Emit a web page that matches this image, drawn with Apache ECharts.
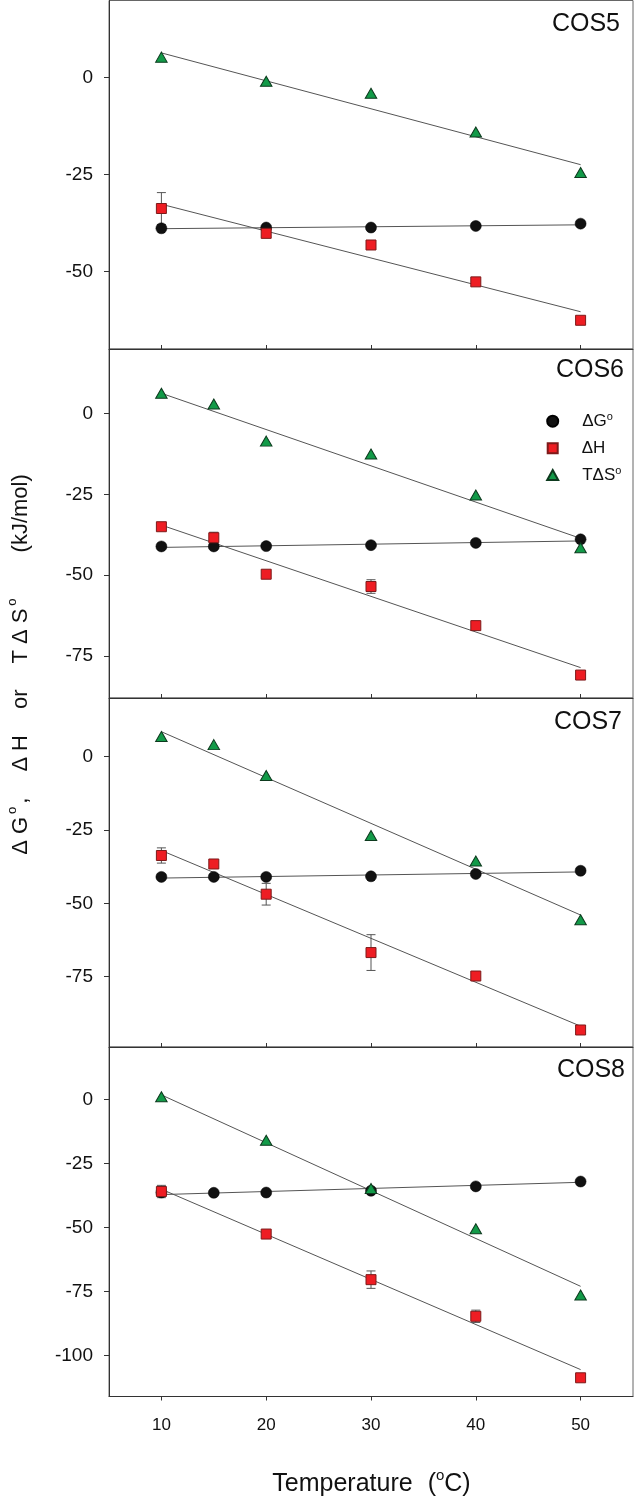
<!DOCTYPE html>
<html><head><meta charset="utf-8">
<script src="https://cdn.jsdelivr.net/npm/echarts@6/dist/echarts.min.js"></script>
<style>html,body{margin:0;padding:0;background:#fff}#c{width:634px;height:1499px}</style>
</head><body><div id="c"></div>
<script>
// ---- data ----
const xTicks = [10, 20, 30, 40, 50];
const panelNames = ['COS5', 'COS6', 'COS7', 'COS8'];
const yRanges = [[-70, 19.8], [-88, 20], [-99, 20], [-116, 20.4]];
const yTicks = [[0, -25, -50], [0, -25, -50, -75], [0, -25, -50, -75], [0, -25, -50, -75, -100]];
const fitTemp = [10, 50];

// COS5
const cos5Temp = [10, 20, 30, 40, 50];
const cos5G = [-38.9, -38.7, -38.7, -38.3, -37.7];
const cos5H = [-33.8, -40.2, -43.2, -52.7, -62.6];
const cos5HErr = [4.1, 0, 0, 0, 0];
const cos5S = [5.2, -1.0, -4.1, -14.1, -24.5];
const cos5FitG = [-39.0, -38.0];
const cos5FitH = [-32.7, -60.4];
const cos5FitS = [6.3, -22.5];

// COS6
const cos6Temp = [10, 15, 20, 30, 40, 50];
const cos6G = [-41.1, -41.1, -41.0, -40.7, -40.0, -38.9];
const cos6H = [-35.0, -38.4, -49.7, -53.5, -65.6, -80.9];
const cos6HErr = [1.0, 1.7, 0, 2.1, 0, 0];
const cos6S = [6.3, 3.0, -8.5, -12.5, -25.2, -41.5];
const cos6FitG = [-41.4, -39.4];
const cos6FitH = [-34.5, -78.6];
const cos6FitS = [6.3, -38.6];

// COS7
const cos7Temp = [10, 15, 20, 30, 40, 50];
const cos7G = [-41.0, -41.0, -41.0, -40.8, -40.0, -38.9];
const cos7H = [-33.7, -36.6, -46.9, -66.8, -74.8, -93.2];
const cos7HErr = [2.6, 0, 3.7, 6.1, 0, 0];
const cos7S = [6.9, 4.1, -6.4, -26.9, -35.6, -55.6];
const cos7FitG = [-41.4, -39.3];
const cos7FitH = [-32.0, -91.9];
const cos7FitS = [8.5, -54.0];

// COS8
const cos8TempG = [10, 15, 20, 30, 40, 50];
const cos8G = [-36.4, -36.5, -36.4, -35.7, -34.0, -32.1];
const cos8Temp = [10, 20, 30, 40, 50];
const cos8H = [-36.0, -52.6, -70.4, -84.7, -108.7];
const cos8HErr = [2.4, 0, 3.4, 2.4, 0];
const cos8S = [1.0, -16.0, -34.8, -50.5, -76.4];
const cos8FitG = [-37.2, -32.4];
const cos8FitH = [-35.1, -105.5];
const cos8FitS = [1.7, -73.0];

const panels = [
  {tG: cos5Temp, g: cos5G, tH: cos5Temp, h: cos5H, e: cos5HErr, tS: cos5Temp, s: cos5S, fG: cos5FitG, fH: cos5FitH, fS: cos5FitS},
  {tG: cos6Temp, g: cos6G, tH: cos6Temp, h: cos6H, e: cos6HErr, tS: cos6Temp, s: cos6S, fG: cos6FitG, fH: cos6FitH, fS: cos6FitS},
  {tG: cos7Temp, g: cos7G, tH: cos7Temp, h: cos7H, e: cos7HErr, tS: cos7Temp, s: cos7S, fG: cos7FitG, fH: cos7FitH, fS: cos7FitS},
  {tG: cos8TempG, g: cos8G, tH: cos8Temp, h: cos8H, e: cos8HErr, tS: cos8Temp, s: cos8S, fG: cos8FitG, fH: cos8FitH, fS: cos8FitS}
];

// ---- layout / style ----
const FONT = 'Liberation Sans, Arial, sans-serif';
const tops = [0.5, 349, 698, 1047];
const heights = [348.5, 349, 349, 349.5];
const labelY = [24.2, 370, 721.7, 1070];
const labelX = [620, 624, 622, 625];
const AX = '#333';
const LINE = '#555';

const zip = (a, b) => a.map((v, i) => [v, b[i]]);

const grid = [], xAxis = [], yAxis = [], series = [];
panels.forEach((p, i) => {
  grid.push({left: 109, width: 524, top: tops[i], height: heights[i], show: true,
    borderColor: '#666', borderWidth: 1, backgroundColor: 'transparent'});
  xAxis.push({type: 'value', gridIndex: i, min: 5, max: 55,
    axisLine: {show: true, onZero: false, lineStyle: {color: AX, width: 1}},
    axisTick: {show: true, customValues: xTicks, inside: i < 3, length: 4, lineStyle: {color: AX}},
    axisLabel: {show: i === 3, customValues: xTicks, fontSize: 17, color: '#111', fontFamily: FONT, margin: 20},
    splitLine: {show: false}});
  yAxis.push({type: 'value', gridIndex: i, min: yRanges[i][0], max: yRanges[i][1],
    axisLine: {show: true, onZero: false, lineStyle: {color: AX, width: 1}},
    axisTick: {show: true, customValues: yTicks[i], length: 5, lineStyle: {color: AX}},
    axisLabel: {customValues: yTicks[i], fontSize: 19, color: '#111', fontFamily: FONT, margin: 16},
    splitLine: {show: false}});

  // error bars for ΔH
  series.push({type: 'custom', xAxisIndex: i, yAxisIndex: i, z: 1, silent: true,
    data: p.tH.map((t, k) => [t, p.h[k], p.e[k]]).filter(d => d[2] > 0),
    encode: {x: 0, y: 1},
    renderItem: (params, api) => {
      const x = api.value(0), y = api.value(1), e = api.value(2);
      const a = api.coord([x, y + e]), b = api.coord([x, y - e]);
      const w = 4.5, st = {stroke: LINE, lineWidth: 1};
      return {type: 'group', children: [
        {type: 'line', shape: {x1: a[0], y1: a[1], x2: b[0], y2: b[1]}, style: st},
        {type: 'line', shape: {x1: a[0] - w, y1: a[1], x2: a[0] + w, y2: a[1]}, style: st},
        {type: 'line', shape: {x1: b[0] - w, y1: b[1], x2: b[0] + w, y2: b[1]}, style: st}
      ]};
    }});
  // fit lines
  [p.fG, p.fH, p.fS].forEach(f => {
    series.push({type: 'line', xAxisIndex: i, yAxisIndex: i, z: 2, silent: true, symbol: 'none',
      data: zip(fitTemp, f), lineStyle: {color: LINE, width: 1}});
  });
  // markers
  series.push({name: 'ΔG°', type: 'scatter', xAxisIndex: i, yAxisIndex: i, z: 5,
    symbol: 'circle', symbolSize: 11, data: zip(p.tG, p.g),
    itemStyle: {color: '#111', borderColor: '#000', borderWidth: 0.5, opacity: 1}});
  series.push({name: 'ΔH', type: 'scatter', xAxisIndex: i, yAxisIndex: i, z: 6,
    symbol: 'rect', symbolSize: 10, data: zip(p.tH, p.h),
    itemStyle: {color: '#ee1d23', borderColor: '#7d1a1a', borderWidth: 1, opacity: 1}});
  series.push({name: 'TΔS°', type: 'scatter', xAxisIndex: i, yAxisIndex: i, z: 7,
    symbol: 'triangle', symbolSize: [11.5, 10], data: zip(p.tS, p.s),
    itemStyle: {color: '#129a48', borderColor: '#0d3a1e', borderWidth: 1, opacity: 1}});
});

const legRich = {
  sp: {width: 19},
  t: {fontSize: 17, fontFamily: FONT, color: '#111', lineHeight: 20},
  s: {fontSize: 11, fontFamily: FONT, color: '#111', verticalAlign: 'top', lineHeight: 12}
};
const legFmt = n => n === 'ΔG°' ? '{sp|}{t|ΔG}{s|o}' : (n === 'ΔH' ? '{sp|}{t|ΔH}' : '{sp|}{t|TΔS}{s|o}');
const legendDefs = [['ΔG°', 416.7, 11, 11], ['ΔH', 444.7, 10, 10], ['TΔS°', 470, 11, 10]];
const legend = legendDefs.map(([n, cy, w, h]) => ({
  data: [n], left: 551.7 - w / 2, top: cy - h / 2, padding: 0, itemWidth: w, itemHeight: h,
  selectedMode: false, formatter: legFmt, textStyle: {rich: legRich, color: '#111'}
}));

const graphic = panelNames.map((n, i) => ({
  type: 'text', x: labelX[i], y: labelY[i], silent: true,
  style: {text: n, fontSize: 25, fontFamily: FONT, fill: '#111', align: 'right', verticalAlign: 'middle'}
}));
graphic.push({
  type: 'text', x: 21, y: 666, rotation: Math.PI / 2, silent: true,
  style: {
    text: '{t|Δ}{t|G}{s|o}{t|,}{g|}{t|Δ}{t|H}{g|}{t|or}{g|}{t|T}{t|Δ}{t|S}{s|o}{gg|}{u|(kJ/mol)}',
    align: 'center', verticalAlign: 'middle', fill: '#111',
    rich: {
      t: {fontSize: 22, fontFamily: FONT, fill: '#111', padding: [0, 3, 0, 3], lineHeight: 30},
      u: {fontSize: 22, fontFamily: FONT, fill: '#111', lineHeight: 30},
      s: {fontSize: 13, fontFamily: FONT, fill: '#111', verticalAlign: 'top', lineHeight: 16},
      g: {width: 20},
      gg: {width: 46}
    }
  }
});
graphic.push({
  type: 'text', x: 371.5, y: 1484, silent: true,
  style: {
    text: '{t|Temperature}{g|}{t|(}{s|o}{t|C)}',
    align: 'center', verticalAlign: 'middle', fill: '#111',
    rich: {
      t: {fontSize: 25, fontFamily: FONT, fill: '#111', lineHeight: 32},
      s: {fontSize: 15, fontFamily: FONT, fill: '#111', verticalAlign: 'top', lineHeight: 18},
      g: {width: 15}
    }
  }
});

const chart = echarts.init(document.getElementById('c'), null, {renderer: 'canvas'});
chart.setOption({
  animation: false, backgroundColor: '#fff',
  grid, xAxis, yAxis, series, legend, graphic
});
</script></body></html>
